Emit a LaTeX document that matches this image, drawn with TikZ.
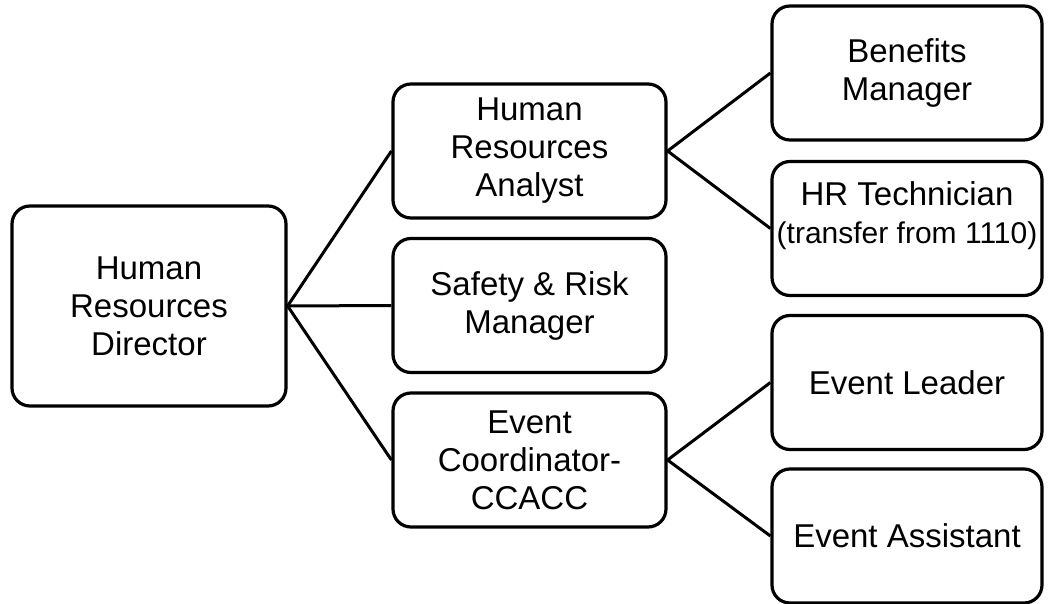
\documentclass[tikz,border=0pt]{standalone}
\usepackage{fontspec}
\setmainfont{Liberation Sans}
\usepackage{tikz}
\usetikzlibrary{positioning}
\newcommand{\boxfont}{\fontsize{16.5}{19}\selectfont}
\newcommand{\notefont}{\fontsize{15}{21}\selectfont}

\begin{document}
\begin{tikzpicture}[x=0.5pt,y=-0.5pt,
  post/.style={draw,line width=1.6pt,rounded corners=9pt,inner sep=0pt,align=center,font=\boxfont,minimum width=136.5pt,minimum height=67pt},
  link/.style={line width=1.5pt}]
\useasboundingbox (0,0) rectangle (1051,604);
% director
\node[post,minimum width=137pt,minimum height=100pt] (dir) at (149,306) {Human\\Resources\\Director};
% middle column
\node[post] (analyst) at (529.5,151) {Human\\Resources\\Analyst};
\node[post] (safety) at (529.5,305.5) {Safety \& Risk\\Manager};
\node[post] (coord) at (529.5,460) {Event\\Coordinator-\\CCACC};
% right column
\node[post,minimum width=135pt] (benefits) at (907,73) {Benefits\\Manager};
\node[post,minimum width=135pt] (tech) at (907,228.5) {};
\node[align=center,font=\boxfont,inner sep=0pt] (techtxt) at (907,216) {HR Technician\\{\notefont (transfer from 1110)}};
\node[post,minimum width=135pt] (leader) at (907,382.5) {Event Leader};
\node[post,minimum width=135pt] (assist) at (907,536) {Event Assistant};
% connectors
\foreach \m in {analyst,safety,coord} {\draw[link] (dir.east) -- (\m.west);}
\foreach \r in {benefits,tech} {\draw[link] (analyst.east) -- (\r.west);}
\foreach \r in {leader,assist} {\draw[link] (coord.east) -- (\r.west);}
\end{tikzpicture}
\end{document}
